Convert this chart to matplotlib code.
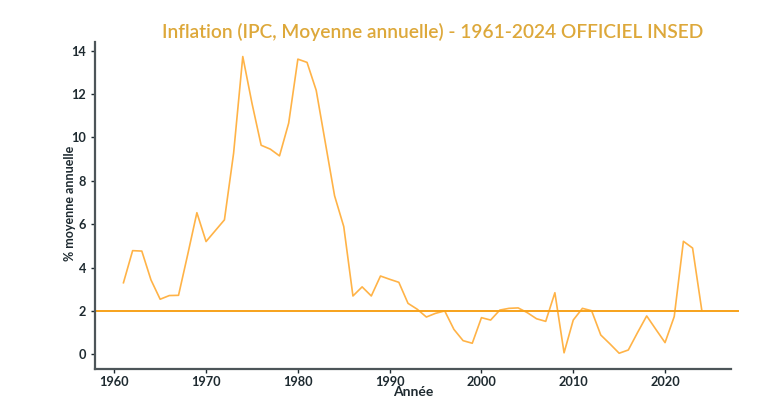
import matplotlib
matplotlib.use("Agg")
import matplotlib.pyplot as plt

# inflation annuelle (IPC, moyenne annuelle)
years = list(range(1961, 2025))
inflation = [3.30, 4.78, 4.76, 3.43, 2.54, 2.71, 2.72, 4.60, 6.53, 5.20,
             5.70, 6.20, 9.27, 13.73, 11.58, 9.64, 9.46, 9.15, 10.66, 13.61,
             13.46, 12.17, 9.74, 7.31, 5.89, 2.69, 3.11, 2.69, 3.61, 3.46,
             3.32, 2.35, 2.08, 1.72, 1.89, 2.00, 1.15, 0.63, 0.51, 1.69,
             1.58, 2.04, 2.12, 2.14, 1.92, 1.64, 1.52, 2.84, 0.07, 1.58,
             2.12, 2.01, 0.89, 0.48, 0.05, 0.20, 1.00, 1.77, 1.15, 0.54,
             1.74, 5.21, 4.90, 2.04]
target = 2.0
target_span = [1958, 2028]

title = "Inflation (IPC, Moyenne annuelle) - 1961-2024 OFFICIEL INSED"
dark = "#1e2a30"

plt.rcParams['font.family'] = ['Lato', 'DejaVu Sans']

fig = plt.figure(figsize=(7.71, 4.09), dpi=100)
ax = fig.add_axes([0.1232, 0.0971, 0.8245, 0.8002])

ax.plot(years, inflation, color="#FFB347", linewidth=1.2)
ax.plot(target_span, [target, target], color="#F7A21B", linewidth=1.4, clip_on=False)

ax.set_xlim(1957.9, 2027.15)
ax.set_ylim(-0.69, 14.4)
ax.set_xticks([1960, 1970, 1980, 1990, 2000, 2010, 2020])
ax.set_yticks([0, 2, 4, 6, 8, 10, 12, 14])

for side in ["top", "right"]:
    ax.spines[side].set_visible(False)
for side in ["left", "bottom"]:
    ax.spines[side].set_color("#4d5559")
    ax.spines[side].set_linewidth(1.6)

ax.tick_params(axis="both", colors=dark, labelsize=9.2, length=3, width=1)
ax.tick_params(axis="x", pad=1.5)
for lab in ax.get_xticklabels() + ax.get_yticklabels():
    lab.set_fontweight("bold")

ax.set_xlabel("Année", color=dark, fontsize=10, fontweight="bold")
ax.set_ylabel("% moyenne annuelle", color=dark, fontsize=9, fontweight="bold")
ax.xaxis.set_label_coords(0.5, -0.068)
ax.yaxis.set_label_coords(-0.039, 0.508)
ax.xaxis.label.set_va("center")
ax.yaxis.label.set_va("center")

fig.text(433 / 771, 1 - 32 / 409, title, color="#DDA83A", fontsize=13.8,
         fontweight="semibold", ha="center", va="center")

fig.savefig("out.png", dpi=100)
